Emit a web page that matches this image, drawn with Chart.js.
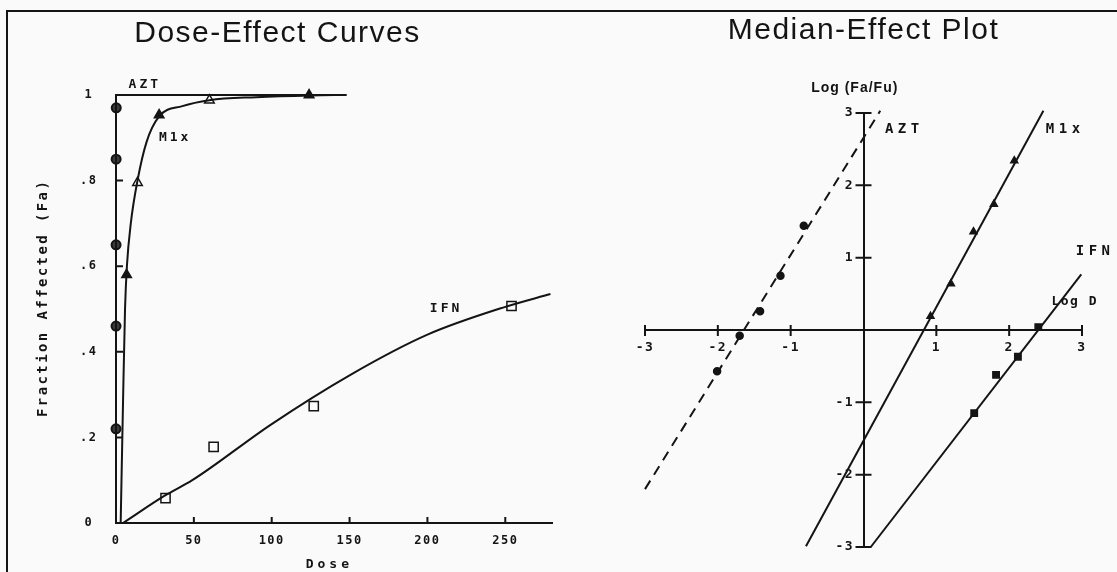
<!DOCTYPE html>
<html>
<head>
<meta charset="utf-8">
<title>Dose-Effect Curves / Median-Effect Plot</title>
<script src="https://cdn.jsdelivr.net/npm/chart.js@4.4.1/dist/chart.umd.min.js"></script>
<style>
html, body { margin: 0; padding: 0; background: #fafafa; }
#page { position: relative; width: 1117px; height: 572px; overflow: hidden; }
#frame { position: absolute; left: 6px; top: 10px; width: 1120px; height: 570px;
         border-left: 2px solid #151515; border-top: 2px solid #151515; }
#dose_wrap { position: absolute; left: 0; top: 12px; }
#median_wrap { position: absolute; left: 560px; top: 12px; }
</style>
</head>
<body>
<div id="page">
  <div id="frame"></div>
  <div id="dose_wrap"><canvas id="dose_graph" width="560" height="560"></canvas></div>
  <div id="median_wrap"><canvas id="median_graph" width="557" height="560"></canvas></div>
</div>
<script>
// ---- left panel : dose-effect curves ----
const doseTicks    = [0, 50, 100, 150, 200, 250];
const faTicks      = [0, 0.2, 0.4, 0.6, 0.8, 1];
const faTickLabels = ['0', '.2', '.4', '.6', '.8', '1'];

// fitted curves [dose, Fa]
const aztCurve = [[0, 0], [0, 1], [148, 1]];
const m1xCurve = [[3, 0], [4.5, 0.28], [5.8, 0.5], [7, 0.6], [9.5, 0.7], [13.8, 0.8], [19.6, 0.89],
                  [27.7, 0.95], [42.6, 0.974], [60, 0.988], [90, 0.995], [125, 0.999], [148, 1]];
const ifnCurve = [[4.5, 0], [31.8, 0.065], [49, 0.1], [99.5, 0.23], [150, 0.345], [200, 0.44],
                  [250, 0.505], [279, 0.535]];

// measured points
const aztDose = [0.01, 0.02, 0.04, 0.08, 0.16];
const aztFa   = [0.22, 0.46, 0.65, 0.85, 0.97];
const m1xDose = [6.8, 13.8, 27.7, 60, 124];
const m1xFa   = [0.58, 0.795, 0.953, 0.988, 1.0];
const ifnDose = [31.8, 62.7, 127, 254];
const ifnFa   = [0.058, 0.178, 0.273, 0.507];

// ---- right panel : median-effect plot ----
const logTicks = [-3, -2, -1, 1, 2, 3];
const aztLogD  = [-2.01, -1.70, -1.42, -1.14, -0.82];
const aztLogFa = [-0.57, -0.08, 0.26, 0.75, 1.44];
const aztFit   = [[-3.0, -2.2], [0.23, 3.03]];
const m1xLogD  = [0.92, 1.2, 1.51, 1.79, 2.07];
const m1xLogFa = [0.19, 0.64, 1.36, 1.74, 2.34];
const m1xFit   = [[-0.79, -2.99], [2.47, 3.03]];
const ifnLogD  = [1.52, 1.82, 2.12, 2.40];
const ifnLogFa = [-1.15, -0.62, -0.37, 0.04];
const ifnFit   = [[0.1, -3.0], [2.99, 0.77]];

const ink = '#141414';
const paper = '#fafafa';
const titleFont = "'Liberation Sans', Arial, sans-serif";
const dotFont = "'DejaVu Sans Mono', monospace";

function curve(pts, extra) {
    return Object.assign({
        data: pts.map(p => ({x: p[0], y: p[1]})),
        showLine: true, pointRadius: 0, borderColor: ink, borderWidth: 2, clip: false
    }, extra);
}
function marks(xs, ys, extra) {
    return Object.assign({
        data: xs.map((x, i) => ({x: x, y: ys[i]})),
        showLine: false, borderColor: ink, backgroundColor: ink,
        pointBorderColor: ink, pointBackgroundColor: ink, pointBorderWidth: 1.5, clip: false
    }, extra);
}

// letter spacing of the old printer text
const spacing = {
    id: 'spacing',
    beforeDraw(chart, args, opts) { chart.ctx.letterSpacing = opts.value; }
};

// tick marks drawn at the axis (inward / crossing)
const tickMarks = {
    id: 'tickMarks',
    afterDraw(chart, args, opts) {
        const ctx = chart.ctx;
        const xs = chart.scales.x, ys = chart.scales.y;
        const axisY = ys.getPixelForValue(opts.xAxisAt);
        const axisX = xs.getPixelForValue(opts.yAxisAt);
        ctx.save();
        ctx.strokeStyle = ink;
        ctx.lineWidth = 2;
        ctx.beginPath();
        for (const t of xs.ticks) {
            const px = xs.getPixelForValue(t.value);
            ctx.moveTo(px, axisY - opts.up);
            ctx.lineTo(px, axisY + opts.down);
        }
        for (const t of ys.ticks) {
            const py = ys.getPixelForValue(t.value);
            ctx.moveTo(axisX - opts.left, py);
            ctx.lineTo(axisX + opts.right, py);
        }
        ctx.stroke();
        ctx.restore();
    }
};

// curve names and axis names written on the plot (placed in data units)
const plotText = {
    id: 'plotText',
    afterDraw(chart, args, opts) {
        const ctx = chart.ctx;
        for (const it of opts.items) {
            ctx.save();
            ctx.fillStyle = ink;
            ctx.font = it.font || opts.font;
            ctx.letterSpacing = it.spacing || opts.spacing;
            ctx.textAlign = 'center';
            ctx.textBaseline = 'middle';
            ctx.translate(chart.scales.x.getPixelForValue(it.x), chart.scales.y.getPixelForValue(it.y));
            if (it.rotate) ctx.rotate(it.rotate * Math.PI / 180);
            ctx.fillText(it.text, 0, 0);
            ctx.restore();
        }
    }
};

function draw_dose_graph() {
    const ctx = document.getElementById('dose_graph').getContext('2d');
    new Chart(ctx, {
        type: 'scatter',
        data: {
            datasets: [
                curve(aztCurve, {tension: 0}),
                curve(m1xCurve, {cubicInterpolationMode: 'monotone'}),
                curve(ifnCurve, {cubicInterpolationMode: 'monotone'}),
                marks(aztDose, aztFa, {pointStyle: 'circle', pointRadius: 4.5, pointBackgroundColor: '#3a3a3a', pointBorderWidth: 2}),
                marks(m1xDose, m1xFa, {pointStyle: 'triangle', pointRadius: 5.5,
                    pointBackgroundColor: [ink, paper, ink, paper, ink]}),
                marks(ifnDose, ifnFa, {pointStyle: 'rect', pointRadius: 6.5, pointBackgroundColor: paper})
            ]
        },
        options: {
            responsive: false,
            animation: false,
            devicePixelRatio: 1,
            layout: {padding: {left: 0, right: 5, top: 0, bottom: 0}},
            plugins: {
                legend: {display: false},
                tooltip: {enabled: false},
                title: {
                    display: true, text: 'Dose-Effect Curves', color: ink,
                    font: {family: titleFont, size: 30, weight: 'normal'},
                    padding: {top: 4, bottom: 43}
                },
                spacing: {value: '1.5px'},
                tickMarks: {xAxisAt: 0, yAxisAt: 0, up: 6, down: 0, left: 0, right: 7},
                plotText: {
                    font: 'bold 13px ' + dotFont,
                    spacing: '3px',
                    items: [
                        {text: 'AZT', x: 18.5, y: 1.025},
                        {text: 'M1x', x: 38, y: 0.9},
                        {text: 'IFN', x: 212, y: 0.5},
                        {text: 'Dose', x: 137, y: -0.098, spacing: '4px'},
                        {text: 'Fraction Affected (Fa)', x: -46.6, y: 0.526, rotate: -90,
                         font: 'bold 14px ' + dotFont, spacing: '2.4px'}
                    ]
                }
            },
            scales: {
                x: {
                    type: 'linear', min: 0, max: 280,
                    grid: {display: false, drawTicks: false},
                    border: {color: ink, width: 2},
                    afterBuildTicks: s => { s.ticks = doseTicks.map(v => ({value: v})); },
                    afterFit: s => { s.height = 49; },
                    ticks: {color: ink, font: {family: dotFont, size: 12, weight: 'bold'},
                            padding: 11, maxRotation: 0, autoSkip: false}
                },
                y: {
                    type: 'linear', min: 0, max: 1,
                    grid: {display: false, drawTicks: false},
                    border: {color: ink, width: 2},
                    afterBuildTicks: s => { s.ticks = faTicks.map(v => ({value: v})); },
                    afterFit: s => { s.width = 116; },
                    ticks: {color: ink, font: {family: dotFont, size: 12, weight: 'bold'},
                            padding: 20, crossAlign: 'center',
                            callback: v => faTickLabels[faTicks.indexOf(v)]}
                }
            }
        },
        plugins: [spacing, tickMarks, plotText]
    });
}

function draw_median_graph() {
    const ctx = document.getElementById('median_graph').getContext('2d');
    new Chart(ctx, {
        type: 'scatter',
        data: {
            datasets: [
                curve(aztFit, {borderDash: [10, 7]}),
                curve(m1xFit, {}),
                curve(ifnFit, {}),
                marks(aztLogD, aztLogFa, {pointStyle: 'circle', pointRadius: 3.5}),
                marks(m1xLogD, m1xLogFa, {pointStyle: 'triangle', pointRadius: 4}),
                marks(ifnLogD, ifnLogFa, {pointStyle: 'rect', pointRadius: 4.5})
            ]
        },
        options: {
            responsive: false,
            animation: false,
            devicePixelRatio: 1,
            layout: {padding: {left: 85, right: 35, top: 0, bottom: 25}},
            plugins: {
                legend: {display: false},
                tooltip: {enabled: false},
                title: {
                    display: true, text: 'Median-Effect Plot', color: ink,
                    font: {family: titleFont, size: 30, weight: 'normal'},
                    padding: {top: 1, bottom: 64}
                },
                spacing: {value: '1.5px'},
                tickMarks: {xAxisAt: 0, yAxisAt: 0, up: 5, down: 6, left: 8, right: 8},
                plotText: {
                    font: 'bold 14px ' + dotFont,
                    spacing: '4.5px',
                    items: [
                        {text: 'Log (Fa/Fu)', x: -0.12, y: 3.35, font: 'bold 14px ' + titleFont, spacing: '1px'},
                        {text: 'Log D', x: 2.9, y: 0.39, font: 'bold 13px ' + dotFont, spacing: '1.5px'},
                        {text: 'AZT', x: 0.56, y: 2.78},
                        {text: 'M1x', x: 2.77, y: 2.78},
                        {text: 'IFN', x: 3.18, y: 1.09}
                    ]
                }
            },
            scales: {
                x: {
                    type: 'linear', min: -3, max: 3, position: {y: 0},
                    grid: {display: false, drawTicks: false},
                    border: {color: ink, width: 2},
                    afterBuildTicks: s => { s.ticks = logTicks.map(v => ({value: v})); },
                    ticks: {color: ink, font: {family: dotFont, size: 13, weight: 'bold'},
                            padding: 10, maxRotation: 0, autoSkip: false}
                },
                y: {
                    type: 'linear', min: -3, max: 3, position: {x: 0},
                    grid: {display: false, drawTicks: false},
                    border: {color: ink, width: 2},
                    afterBuildTicks: s => { s.ticks = logTicks.map(v => ({value: v})); },
                    // labels of a centred axis sit right on it; a trailing space keeps them off the ticks
                    ticks: {color: ink, font: {family: dotFont, size: 13, weight: 'bold'},
                            callback: v => v + ' '}
                }
            }
        },
        plugins: [spacing, tickMarks, plotText]
    });
}

window.addEventListener('load', function () {
    draw_dose_graph();
    draw_median_graph();
});
</script>
</body>
</html>
